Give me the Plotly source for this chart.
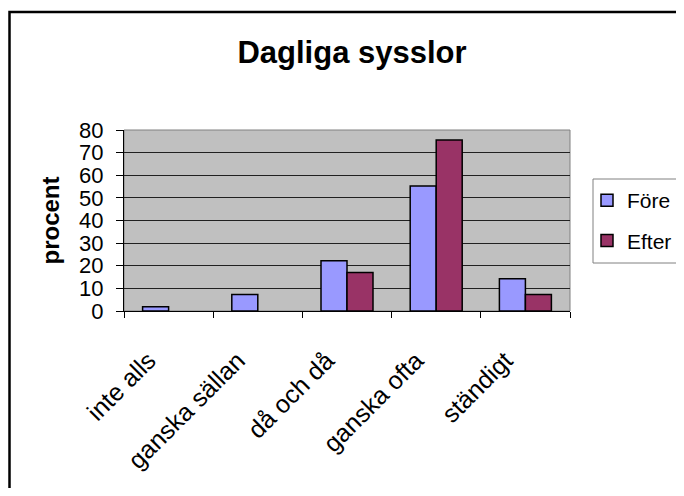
import plotly.graph_objects as go

categories = ["inte alls", "ganska sällan", "då och då", "ganska ofta", "ständigt"]
fore = [1.9, 7.3, 22.2, 55.3, 14.3]
efter = [None, None, 17.0, 75.6, 7.3]
y_ticks = [0, 10, 20, 30, 40, 50, 60, 70, 80]

# page offset (body margin) compensation
OX, OY = 8, 8
W, H = 684 - OX, 496 - 2 * OY
# desired plot area in page pixels: x 124..570, y 130..311
L = 124 - OX
T = 130 - OY
pw = 570 - 124
ph = 311 - 130
R = W - L - pw
B = H - T - ph

def px(x):
    return (x - OX - L) / pw

def py(y):
    return (T + ph - (y - OY)) / ph

fig = go.Figure()
fig.add_trace(go.Bar(x=categories, y=fore, name="Före", legendgroup="a",
                     marker=dict(color="#9999FF", line=dict(color="black", width=1.5))))
fig.add_trace(go.Bar(x=categories, y=efter, name="Efter", legendgroup="b",
                     marker=dict(color="#993366", line=dict(color="black", width=1.5))))

fig.update_layout(
    width=W, height=H,
    margin=dict(l=L, r=R, t=T, b=B, autoexpand=False),
    paper_bgcolor="white", plot_bgcolor="#C0C0C0",
    barmode="group", bargap=0.417, bargroupgap=0,
    font=dict(family="Liberation Sans, Arial, sans-serif", color="black"),
    title=dict(text="<b>Dagliga sysslor</b>", font=dict(size=31, color="black"),
               x=(352 - OX) / W, xanchor="center", xref="container",
               y=1 - (52 - OY) / H, yanchor="middle", yref="container"),
    legend=dict(x=px(587), y=py(180), xanchor="left", yanchor="top",
                borderwidth=0, bgcolor="rgba(0,0,0,0)",
                font=dict(size=21), traceorder="grouped", tracegroupgap=10),
    showlegend=True,
)
fig.update_yaxes(range=[0, 80], tickvals=y_ticks, ticktext=[str(v) for v in y_ticks],
                 showgrid=True, gridcolor="#202020", gridwidth=1,
                 showline=True, linecolor="black", linewidth=1,
                 ticks="outside", ticklen=7, tickcolor="black",
                 tickfont=dict(size=22), ticklabelstandoff=8,
                 zeroline=False,
                 title=dict(text="<b>procent</b>", font=dict(size=24), standoff=12))
fig.update_xaxes(showline=True, linecolor="black", linewidth=1,
                 ticks="outside", ticklen=6, tickcolor="black", tickson="boundaries",
                 tickangle=-45, tickfont=dict(size=25), ticklabelstandoff=24,
                 ticklabelshift=-20, showgrid=False)

# plot-area border
fig.add_shape(type="rect", xref="paper", yref="paper", x0=0, x1=1, y0=0, y1=1,
              line=dict(color="#808080", width=1), layer="below")
# legend frame
fig.add_shape(type="rect", xref="paper", yref="paper",
              x0=px(593), x1=px(683), y0=py(263), y1=py(179),
              line=dict(color="#808080", width=1), fillcolor="white", layer="below")
# outer chart frame (left edge kept inside the figure)
fig.add_shape(type="rect", xref="paper", yref="paper",
              x0=px(OX + 1.5), x1=px(720), y0=py(540), y1=py(12),
              line=dict(color="black", width=2.5))

fig.write_html("out.html")
